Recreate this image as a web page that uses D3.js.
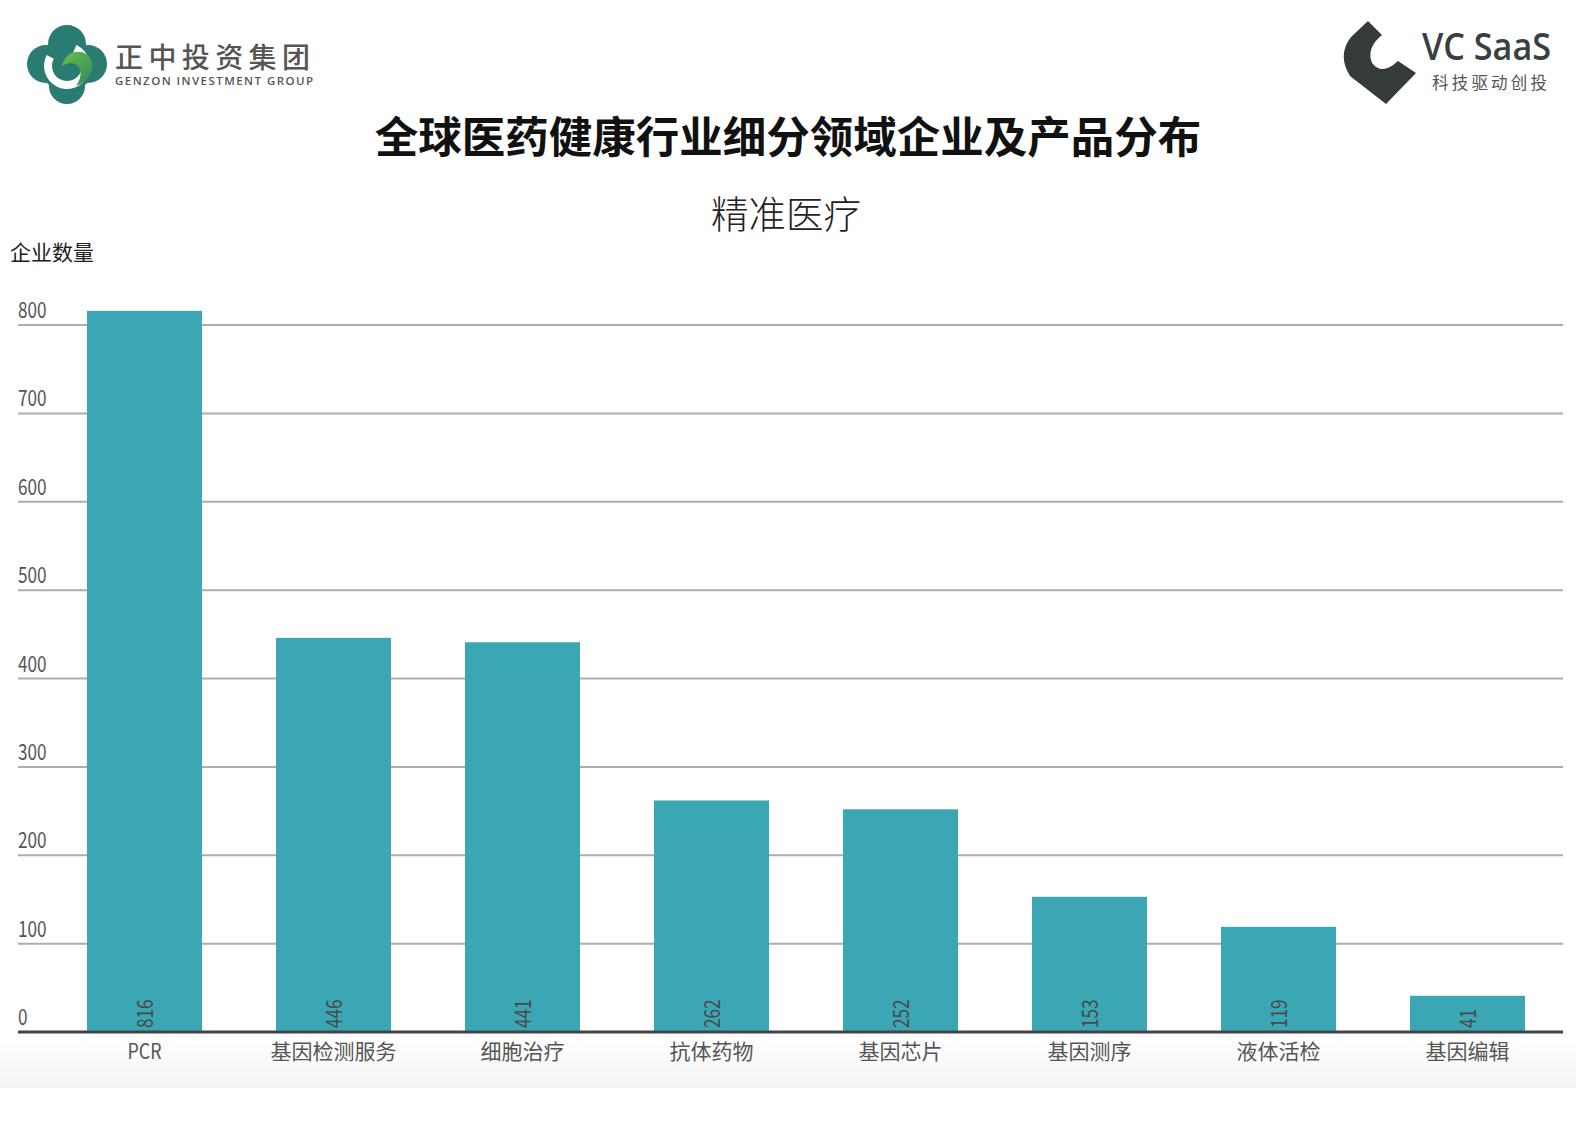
<!DOCTYPE html>
<html>
<head>
<meta charset="utf-8">
<script src="https://cdn.jsdelivr.net/npm/d3@7"></script>
<style>
  html, body { margin: 0; padding: 0; background: #ffffff; }
  svg { display: block; }
</style>
</head>
<body>
<svg id="chart" width="1576" height="1136"></svg>
<script>
// ---- data ----
const categories = ["PCR", "基因检测服务", "细胞治疗", "抗体药物", "基因芯片", "基因测序", "液体活检", "基因编辑"];
const companyCounts = [816, 446, 441, 262, 252, 153, 119, 41];
const yTicks = [0, 100, 200, 300, 400, 500, 600, 700, 800];
const titleText = "全球医药健康行业细分领域企业及产品分布";
const subtitleText = "精准医疗";
const yAxisTitle = "企业数量";

const CJK = "'Noto Sans CJK SC', 'Noto Sans', sans-serif";
const NARROW = "'Noto Sans CJK SC', 'Noto Sans', sans-serif";

const svg = d3.select("#chart");

// bottom soft band
const defs = svg.append("defs");
const grad = defs.append("linearGradient").attr("id", "bandGrad").attr("x1", 0).attr("y1", 0).attr("x2", 0).attr("y2", 1);
grad.append("stop").attr("offset", "0%").attr("stop-color", "#ffffff");
grad.append("stop").attr("offset", "100%").attr("stop-color", "#f4f4f4");
svg.append("rect").attr("x", 0).attr("y", 1034).attr("width", 1576).attr("height", 54).attr("fill", "url(#bandGrad)");

// scales
const x = d3.scaleBand().domain(categories).range([50, 1562]).paddingInner(0.3915).paddingOuter(0.19575);
const y = d3.scaleLinear().domain([0, 800]).range([1032, 325]);

// gridlines
svg.append("g").selectAll("line").data(yTicks.filter(d => d > 0)).join("line")
  .attr("x1", 18).attr("x2", 1563)
  .attr("y1", d => y(d)).attr("y2", d => y(d))
  .attr("stroke", "#adadad").attr("stroke-width", 2);

// y tick labels (condensed)
svg.append("g").selectAll("text").data(yTicks).join("text")
  .attr("transform", d => `translate(18,${y(d) - 7}) scale(0.78,1)`)
  .attr("font-family", NARROW).attr("font-size", 22).attr("fill", "#555")
  .text(d => d);

// bars
svg.append("g").selectAll("rect").data(categories).join("rect")
  .attr("x", d => x(d)).attr("width", x.bandwidth())
  .attr("y", (d, i) => y(companyCounts[i]))
  .attr("height", (d, i) => y(0) - y(companyCounts[i]))
  .attr("fill", "#3ba6b4");

// value labels (rotated, inside bars at bottom)
svg.append("g").selectAll("text").data(categories).join("text")
  .attr("transform", d => `translate(${x(d) + x.bandwidth() / 2 + 8},${y(0) - 4}) rotate(-90) scale(0.78,1)`)
  .attr("font-family", NARROW).attr("font-size", 22).attr("fill", "#4a4a4a")
  .attr("text-anchor", "start")
  .text((d, i) => companyCounts[i]);

// x axis line
svg.append("line").attr("x1", 18).attr("x2", 1563).attr("y1", y(0)).attr("y2", y(0))
  .attr("stroke", "#444").attr("stroke-width", 3);

// x category labels
const xAxis = d3.axisBottom(x).tickSize(0).tickPadding(0);
const xg = svg.append("g").attr("transform", `translate(0,${y(0)})`).call(xAxis);
xg.select(".domain").remove();
xg.selectAll(".tick text")
  .attr("dy", null).attr("y", 27)
  .attr("font-family", CJK)
  .attr("font-size", 21).attr("fill", "#555")
  .attr("transform", d => d === "PCR" ? "scale(0.85,1)" : null);

// titles
svg.append("text").attr("x", 788).attr("y", 153).attr("text-anchor", "middle")
  .attr("font-family", CJK).attr("font-weight", 700).attr("font-size", 43.5).attr("fill", "#111")
  .text(titleText);
svg.append("text").attr("x", 786).attr("y", 228).attr("text-anchor", "middle")
  .attr("font-family", CJK).attr("font-weight", 300).attr("font-size", 37.5).attr("fill", "#222")
  .text(subtitleText);
svg.append("text").attr("x", 10).attr("y", 260)
  .attr("font-family", CJK).attr("font-size", 21).attr("fill", "#222")
  .text(yAxisTitle);

// ---- left logo (Genzon) ----
const L = svg.append("g");
const lg = defs.append("linearGradient").attr("id", "gGreen").attr("x1", 0).attr("y1", 0).attr("x2", 1).attr("y2", 1);
lg.append("stop").attr("offset", "0%").attr("stop-color", "#6cbf4a");
lg.append("stop").attr("offset", "100%").attr("stop-color", "#2d8a5e");
[[67, 44, 19], [46, 64, 19], [67, 86, 18], [88, 64, 19], [67, 65, 27]].forEach(c =>
  L.append("circle").attr("cx", c[0]).attr("cy", c[1]).attr("r", c[2]).attr("fill", "#2a7b72"));
// white "G" arc
const arcG = d3.arc().innerRadius(15).outerRadius(23).startAngle(0.6).endAngle(2 * Math.PI - 0.9);
L.append("path").attr("d", arcG()).attr("transform", "translate(67,66) rotate(-10)").attr("fill", "#ffffff");
// green swirl
L.append("path").attr("d", "M62,66 Q66,50 82,52 Q94,56 92,70 Q88,82 76,86 Q84,74 78,66 Q72,60 62,66 Z")
  .attr("fill", "url(#gGreen)");
L.append("text").attr("x", 115).attr("y", 68)
  .attr("font-family", CJK).attr("font-weight", 500).attr("font-size", 28).attr("fill", "#555")
  .attr("letter-spacing", 5.4).text("正中投资集团");
L.append("text").attr("x", 115).attr("y", 85)
  .attr("font-family", "'Open Sans', 'DejaVu Sans', sans-serif").attr("font-weight", 600).attr("font-size", 11.5).attr("fill", "#555")
  .attr("letter-spacing", 1.45).text("GENZON INVESTMENT GROUP");

// ---- right logo (VC SaaS) ----
const R = svg.append("g");
R.append("path")
  .attr("d", "M1368,21 L1382,35 Q1366,48 1372,63 Q1382,76 1398,61 L1416,73 L1386,104 L1350,76 Q1337,55 1351,37 Z")
  .attr("fill", "#343b3a");
R.append("text").attr("transform", "translate(1422,60) scale(0.9,1)")
  .attr("font-family", "'Open Sans', 'DejaVu Sans', sans-serif").attr("font-weight", 600).attr("font-size", 38).attr("fill", "#3a403f")
  .text("VC SaaS");
R.append("text").attr("x", 1432).attr("y", 89)
  .attr("font-family", CJK).attr("font-size", 16.5).attr("fill", "#555")
  .attr("letter-spacing", 3.2).text("科技驱动创投");
</script>
</body>
</html>
